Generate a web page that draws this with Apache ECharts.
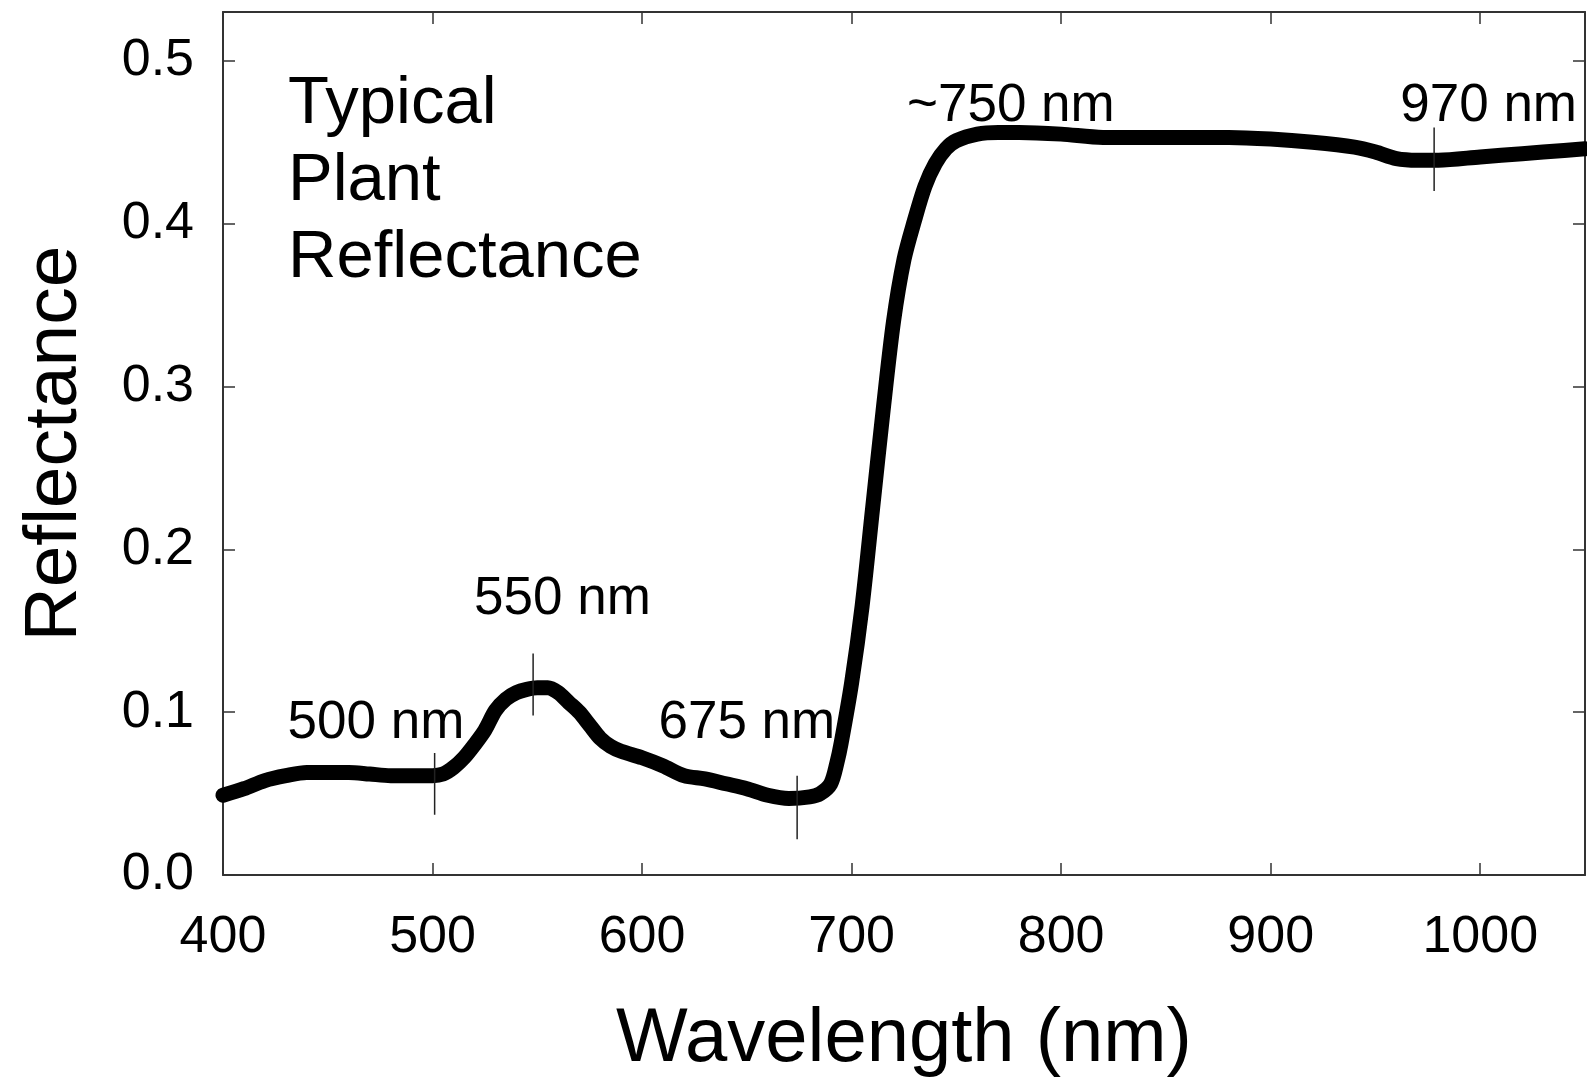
<!DOCTYPE html>
<html>
<head>
<meta charset="utf-8">
<script src="https://cdn.jsdelivr.net/npm/echarts@6/dist/echarts.min.js"></script>
<style>
html,body{margin:0;padding:0;background:#fff;}
#chart{width:1587px;height:1083px;}
</style>
</head>
<body>
<div id="chart"></div>
<script>
// Wavelength (nm) and reflectance
var wavelengths = [400,410,420,430,440,450,460,470,480,490,500,505,510,515,520,525,530,535,540,545,550,555,560,565,570,575,580,585,590,600,610,620,630,640,650,660,670,680,685,690,693,695,700,705,710,715,720,725,730,735,740,745,750,760,770,780,800,820,840,860,880,900,920,940,950,960,970,980,1000,1020,1040,1050];
var reflectance = [0.049,0.053,0.058,0.061,0.063,0.063,0.063,0.062,0.061,0.061,0.061,0.062,0.066,0.072,0.080,0.089,0.101,0.108,0.112,0.114,0.115,0.115,0.112,0.106,0.100,0.092,0.084,0.079,0.076,0.072,0.067,0.061,0.059,0.056,0.053,0.049,0.047,0.048,0.050,0.056,0.069,0.081,0.118,0.165,0.225,0.285,0.340,0.378,0.402,0.423,0.437,0.446,0.451,0.455,0.456,0.456,0.455,0.453,0.453,0.453,0.453,0.452,0.450,0.447,0.444,0.440,0.439,0.439,0.441,0.443,0.445,0.446];

// Vertical marker ticks
var markerX = [501, 548, 674, 978];
var markerLow = [0.037, 0.098, 0.022, 0.420];
var markerHigh = [0.075, 0.136, 0.061, 0.459];

// Annotation labels (centre positions in data units)
var annoText = ['500 nm', '550 nm', '675 nm', '~750 nm', '970 nm'];
var annoX = [473, 562, 650, 776, 1004];
var annoY = [0.093, 0.169, 0.093, 0.472, 0.472];

// Axis ticks
var xMin = 400, xMax = 1050, xStep = 100;
var yMin = 0, yMax = 0.53, yStep = 0.1;

var FONT = '"Liberation Sans", Arial, sans-serif';
var chart = echarts.init(document.getElementById('chart'));

var series = [{
  type: 'line',
  data: wavelengths.map(function(w, i){ return [w, reflectance[i]]; }),
  showSymbol: false,
  smooth: 0.3,
  lineStyle: {color: '#000', width: 15, cap: 'round', join: 'round'},
  z: 3
}];
markerX.forEach(function(x, i){
  series.push({
    type: 'line',
    data: [[x, markerLow[i]], [x, markerHigh[i]]],
    showSymbol: false,
    lineStyle: {color: '#222', width: 1.5},
    z: 4
  });
});
series.push({
  type: 'scatter',
  data: annoX.map(function(x, i){ return {value: [x, annoY[i]], name: annoText[i]}; }),
  symbolSize: 0,
  itemStyle: {opacity: 1},
  label: {
    show: true,
    position: 'inside',
    formatter: function(p){ return p.name; },
    fontFamily: FONT,
    fontSize: 53,
    color: '#000',
    opacity: 1,
    textBorderWidth: 0,
    align: 'center',
    verticalAlign: 'middle'
  },
  z: 5
});

var axisLine = {show: true, onZero: false, lineStyle: {color: '#333', width: 2}};
var tick = {show: true, inside: true, length: 12, lineStyle: {color: '#333', width: 1.5}};

chart.setOption({
  animation: false,
  backgroundColor: '#fff',
  grid: {left: 223, right: 2, top: 12, bottom: 207, containLabel: false},
  xAxis: [{
    type: 'value', min: xMin, max: xMax, interval: xStep, position: 'bottom',
    axisLine: axisLine, axisTick: tick, splitLine: {show: false},
    axisLabel: {fontFamily: FONT, fontSize: 52, color: '#000', margin: 37,
      showMaxLabel: false, formatter: function(v){ return String(v); }},
    name: 'Wavelength (nm)', nameLocation: 'middle', nameGap: 127,
    nameTextStyle: {fontFamily: FONT, fontSize: 76, color: '#000'}
  }, {
    type: 'value', min: xMin, max: xMax, interval: xStep, position: 'top',
    axisLine: axisLine, axisTick: tick, splitLine: {show: false},
    axisLabel: {show: false}
  }],
  yAxis: [{
    type: 'value', min: yMin, max: yMax, interval: yStep, position: 'left',
    axisLine: axisLine, axisTick: tick, splitLine: {show: false},
    axisLabel: {fontFamily: FONT, fontSize: 52, color: '#000', margin: 29,
      showMaxLabel: false,
      formatter: function(v){ return v.toFixed(1); }},
    name: 'Reflectance', nameLocation: 'middle', nameGap: 130, nameRotate: 90,
    nameTextStyle: {fontFamily: FONT, fontSize: 75, color: '#000'}
  }, {
    type: 'value', min: yMin, max: yMax, interval: yStep, position: 'right',
    axisLine: axisLine, axisTick: tick, splitLine: {show: false},
    axisLabel: {show: false}
  }],
  graphic: [{
    type: 'text', left: 288, top: 66,
    style: {text: 'Typical\nPlant\nReflectance', fontFamily: FONT, fontSize: 67,
      lineHeight: 77, fill: '#000'}
  }],
  series: series
});
</script>
</body>
</html>
